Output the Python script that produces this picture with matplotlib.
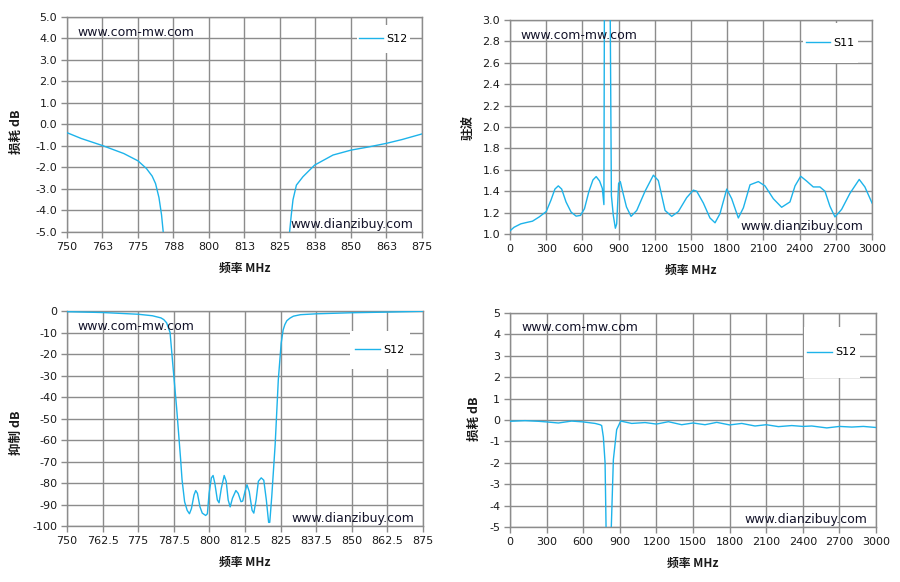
import numpy as np
import matplotlib
matplotlib.use('Agg')
import matplotlib.pyplot as plt
from matplotlib.patches import Rectangle

plt.rcParams['font.family'] = ['DejaVu Sans']
plt.rcParams['axes.unicode_minus'] = False

# ---- data ----
# top left: S12 insertion loss, 750-875 MHz (clipped at -5 dB)
f_tl = [750, 755, 762.5, 770, 775, 778, 780, 781.2, 782.4, 783.3, 783.9, 785.5,
        827.0, 828.4, 829.0, 829.6, 830.8, 833.1, 837.2, 843.7, 850.1, 856, 862.4, 868, 875]
s12_tl = [-0.38, -0.65, -0.98, -1.35, -1.69, -2.05, -2.4, -2.75, -3.4, -4.2, -5.0, -12,
          -12, -5.0, -4.2, -3.5, -2.82, -2.43, -1.89, -1.42, -1.19, -1.05, -0.88, -0.7, -0.44]

# top right: S11 VSWR, 0-3000 MHz
f_tr = [0, 33, 89, 145, 186, 242, 300, 339, 372, 400, 428, 464, 506, 548, 584, 617, 653,
        687, 714, 742, 765, 778, 784, 800, 815, 825, 840, 856, 873, 884, 900, 914, 937, 965,
        1003, 1050, 1119, 1188, 1229, 1285, 1340, 1395, 1464, 1519, 1547, 1602, 1657, 1699,
        1740, 1796, 1837, 1892, 1934, 1989, 2058, 2113, 2182, 2251, 2320, 2362, 2409, 2458,
        2513, 2568, 2610, 2651, 2693, 2748, 2817, 2894, 2941, 3000]
vswr_tr = [1.03, 1.063, 1.095, 1.11, 1.12, 1.16, 1.21, 1.316, 1.42, 1.45, 1.42, 1.30, 1.205,
           1.167, 1.174, 1.237, 1.395, 1.505, 1.537, 1.496, 1.426, 1.275, 4.0, 40.0, 40.0,
           4.0, 1.36, 1.174, 1.054, 1.095, 1.474, 1.49, 1.38, 1.253, 1.165, 1.22, 1.40, 1.55,
           1.50, 1.22, 1.165, 1.21, 1.34, 1.41, 1.40, 1.29, 1.15, 1.105, 1.19, 1.42, 1.33,
           1.15, 1.245, 1.46, 1.49, 1.45, 1.33, 1.25, 1.30, 1.45, 1.54, 1.495, 1.44, 1.44,
           1.40, 1.26, 1.16, 1.23, 1.38, 1.51, 1.44, 1.29]

# bottom left: S12 rejection, 750-875 MHz
f_bl = [750, 762.5, 775, 780, 783, 784, 785, 786.2, 787.3, 788.5, 789.9, 790.4, 791.3, 792.2,
        793.0, 793.7, 794.6, 795.2, 795.8, 796.7, 797.5, 798.7, 799.3, 799.9, 800.7, 801.3,
        801.9, 802.8, 803.4, 804.2, 805.2, 805.9, 806.6, 807.3, 808.1, 809.3, 810.1, 811.1,
        811.7, 812.5, 813.2, 814.0, 815.0, 815.6, 816.4, 817.2, 818.2, 819.1, 820.0, 820.8,
        821.2, 821.9, 822.6, 823.1, 824.2, 825.2, 825.9, 826.5, 827.2, 828.3, 829.5, 832,
        837.5, 850, 862.5, 875]
s12_bl = [-0.3, -0.7, -1.5, -2.2, -3.2, -4.0, -5.5, -10, -27, -45, -68.9, -78.4, -88.7,
          -92.7, -94.3, -91.9, -85.6, -83.5, -84.8, -91.1, -94.0, -95.1, -94.3, -84.8, -77.6,
          -76.5, -80.0, -87.9, -89.2, -82.4, -76.5, -79.2, -87.9, -91.1, -87.1, -83.5, -84.8,
          -88.7, -88.4, -84.0, -80.8, -84.0, -92.7, -94.0, -87.9, -79.2, -77.6, -78.7, -87.9,
          -98.3, -98.3, -86.3, -72.1, -62, -32, -15, -8.8, -6.3, -4.5, -3.3, -2.4, -1.7, -1.3,
          -0.8, -0.5, -0.1]

# bottom right: S12 insertion loss, 0-3000 MHz
f_br = [0, 123, 232, 300, 396, 505, 600, 697, 738, 751, 765, 779, 787, 792, 825, 830, 847,
        874, 907, 997, 1107, 1200, 1298, 1407, 1500, 1598, 1694, 1800, 1899, 2008, 2100,
        2200, 2309, 2400, 2473, 2596, 2700, 2801, 2896, 3000]
s12_br = [-0.06, -0.03, -0.06, -0.09, -0.14, -0.05, -0.09, -0.16, -0.22, -0.26, -0.8, -2.0,
          -5.0, -9, -9, -5.0, -1.85, -0.45, -0.05, -0.16, -0.12, -0.19, -0.08, -0.22, -0.14,
          -0.22, -0.11, -0.23, -0.16, -0.28, -0.22, -0.31, -0.26, -0.30, -0.28, -0.37,
          -0.30, -0.33, -0.30, -0.35]

xt_narrow = [750 + 12.5 * i for i in range(11)]
xl_tl = ['750', '763', '775', '788', '800', '813', '825', '838', '850', '863', '875']
xl_bl = ['750', '762.5', '775', '787.5', '800', '812.5', '825', '837.5', '850', '862.5', '875']
xt_wide = list(range(0, 3001, 300))

line_c = '#1DB3EA'
grid_c = '#8C8C8C'
cjk = ['Noto Sans CJK SC', 'DejaVu Sans']

fig = plt.figure(figsize=(9, 5.82), dpi=100)

def setup(ax, x, y, label, xlim, ylim, xticks, xlabels, yticks, ylabels, ylab, ylab_xy, box):
    ax.plot(x, y, color=line_c, lw=1.0, label=label, zorder=3)
    ax.set_xlim(xlim)
    ax.set_ylim(ylim)
    ax.set_xticks(xticks)
    ax.set_xticklabels(xlabels)
    ax.set_yticks(yticks)
    ax.set_yticklabels(ylabels)
    ax.grid(True, color=grid_c, lw=1.0)
    ax.set_axisbelow(True)
    for s in ax.spines.values():
        s.set_color(grid_c)
        s.set_linewidth(1.0)
    ax.tick_params(colors=grid_c, labelcolor='#1a1a1a', labelsize=8, length=4, width=1, pad=3)
    ax.set_xlabel('频率 MHz', family=cjk, fontweight='bold', fontsize=8.5, color='#1a1a1a', labelpad=7)
    ax.set_ylabel(ylab, family=cjk, fontweight='bold', fontsize=9, color='#1a1a1a')
    ax.yaxis.set_label_coords(*ylab_xy)
    # white legend box without border, hiding the grid
    x0, x1, y0, y1 = box
    ax.add_patch(Rectangle((x0, y0), x1 - x0, y1 - y0, transform=ax.transAxes,
                           facecolor='white', edgecolor='none', zorder=2))
    ax.legend(loc='center', bbox_to_anchor=((x0 + x1) / 2, (y0 + y1) / 2), frameon=False,
              fontsize=8, handlelength=2.2, handletextpad=0.3, borderpad=0)
    ax.text(0.03, 0.93, 'www.com-mw.com', transform=ax.transAxes, fontsize=9,
            color='#14142a', va='center', ha='left', zorder=4)
    ax.text(0.975, 0.035, 'www.dianzibuy.com', transform=ax.transAxes, fontsize=9,
            color='#14142a', va='center', ha='right', zorder=4)

ax1 = fig.add_axes([0.0744, 0.6014, 0.3944, 0.3694])
setup(ax1, f_tl, s12_tl, 'S12', (750, 875), (-5, 5), xt_narrow, xl_tl,
      np.arange(-5, 5.01, 1), ['%.1f' % v for v in np.arange(-5, 5.01, 1)],
      '损耗 dB', (-0.124, 0.465), (0.817, 0.966, 0.833, 0.963))

ax2 = fig.add_axes([0.5667, 0.5979, 0.4022, 0.3677])
setup(ax2, f_tr, vswr_tr, 'S11', (0, 3000), (1.0, 3.0), xt_wide, [str(v) for v in xt_wide],
      np.arange(1.0, 3.01, 0.2), ['%.1f' % v for v in np.arange(1.0, 3.01, 0.2)],
      '驻波', (-0.099, 0.5), (0.809, 0.961, 0.799, 0.986))

ax3 = fig.add_axes([0.0744, 0.0962, 0.3956, 0.3694])
setup(ax3, f_bl, s12_bl, 'S12', (750, 875), (-100, 0), xt_narrow, xl_bl,
      np.arange(-100, 1, 10), [str(v) for v in range(-100, 1, 10)],
      '抑制 dB', (-0.124, 0.433), (0.795, 0.963, 0.730, 0.907))

ax4 = fig.add_axes([0.5667, 0.0945, 0.4067, 0.3677])
setup(ax4, f_br, s12_br, 'S12', (0, 3000), (-5, 5), xt_wide, [str(v) for v in xt_wide],
      np.arange(-5, 6, 1), [str(v) for v in range(-5, 6)],
      '损耗 dB', (-0.079, 0.505), (0.803, 0.956, 0.696, 0.935))

fig.savefig('out.png', dpi=100)
